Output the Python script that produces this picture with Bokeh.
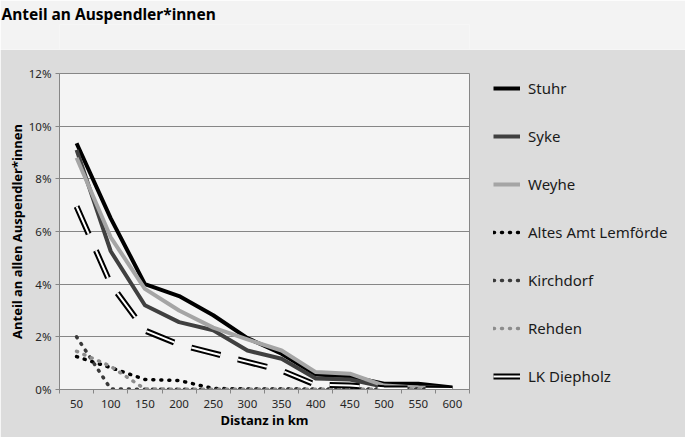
from bokeh.plotting import figure
from bokeh.models import (Range1d, FixedTicker, PrintfTickFormatter, Legend,
                          LegendItem)
from bokeh.layouts import column
from bokeh.embed import file_html
from bokeh.resources import INLINE

# ---- data (percent of all out-commuters) ----
title_text = "Anteil an Auspendler*innen"
x_label = "Distanz in km"
y_label = "Anteil an allen Auspendler*innen"
distance = [50, 100, 150, 200, 250, 300, 350, 400, 450, 500, 550, 600]
y_ticks = [0, 2, 4, 6, 8, 10, 12]

stuhr = [9.35, 6.5, 4.0, 3.55, 2.82, 1.95, 1.36, 0.57, 0.5, 0.22, 0.22, 0.08]
syke = [9.1, 5.25, 3.2, 2.56, 2.25, 1.48, 1.17, 0.42, 0.38, 0.1, 0.08, 0.05]
weyhe = [8.8, 5.78, 3.82, 3.0, 2.35, 1.9, 1.48, 0.66, 0.6, 0.15, 0.08, 0.05]
lemfoerde = [1.25, 0.83, 0.38, 0.34, 0.04, 0.02, 0.02, 0.01, 0.01, 0.01, 0.01, 0.01]
kirchdorf = [2.0, 0.02, 0.01, 0.01, 0.01, 0.01, 0.01, 0.01, 0.01, 0.01, 0.01, 0.01]
rehden = [1.45, 0.88, 0.02, 0.01, 0.01, 0.01, 0.01, 0.01, 0.01, 0.01, 0.01, 0.01]
lk_diepholz = [6.95, 4.0, 2.24, 1.71, 1.38, 1.05, 0.72, 0.18, 0.15, 0.05, 0.03, 0.02]

FONT = "Noto Sans"
GRID = "#868686"
step = distance[1] - distance[0]
boundaries = [d - step / 2 for d in distance] + [distance[-1] + step / 2]

LEFT, FRAME_W, RIGHT = 59, 410, 216

# ---- title band ----
band = figure(width=685, height=49, frame_width=FRAME_W,
              x_range=Range1d(0, 1), y_range=Range1d(0, 1),
              toolbar_location=None, output_backend="svg",
              x_axis_type=None, y_axis_type=None,
              min_border_left=LEFT, min_border_right=RIGHT,
              min_border_top=0, min_border_bottom=0,
              background_fill_color="#f3f3f3", border_fill_color="#f3f3f3",
              outline_line_color=None)
band.grid.visible = False
band.title.text = title_text
band.title.align = "left"
band.title.offset = -(LEFT - 1)
band.title.standoff = 0
band.title.text_font = FONT
band.title.text_font_style = "bold"
band.title.text_font_size = "15.5px"
band.title.text_color = "#000000"

# ---- main chart ----
p = figure(width=685, height=388, frame_width=FRAME_W, frame_height=316,
           x_range=Range1d(boundaries[0], boundaries[-1]), y_range=Range1d(0, 12),
           toolbar_location=None, output_backend="svg",
           min_border_left=LEFT, min_border_right=RIGHT, min_border_top=24,
           min_border_bottom=48,
           background_fill_color="#f4f4f4", border_fill_color="#dcdcdc",
           outline_line_color=GRID, outline_line_width=1)

p.xgrid.visible = False
p.ygrid.ticker = FixedTicker(ticks=y_ticks)
p.ygrid.grid_line_color = GRID
p.ygrid.grid_line_width = 1

# x axis
p.xaxis.ticker = FixedTicker(ticks=distance, minor_ticks=boundaries)
p.xaxis.axis_line_color = GRID
p.xaxis.major_tick_line_color = None
p.xaxis.major_tick_out = 4
p.xaxis.major_tick_in = 0
p.xaxis.minor_tick_line_color = GRID
p.xaxis.minor_tick_out = 4
p.xaxis.minor_tick_in = 0
p.xaxis.major_label_standoff = 6
p.xaxis.axis_label = x_label
p.xaxis.axis_label_standoff = 0

# y axis
p.yaxis.ticker = FixedTicker(ticks=y_ticks, minor_ticks=[])
p.yaxis.formatter = PrintfTickFormatter(format="%d%%")
p.yaxis.axis_line_color = GRID
p.yaxis.major_tick_line_color = GRID
p.yaxis.major_tick_out = 4
p.yaxis.major_tick_in = 0
p.yaxis.minor_tick_line_color = None
p.yaxis.major_label_standoff = 4
p.yaxis.axis_label = y_label
p.yaxis.axis_label_standoff = 0

for ax in (p.xaxis, p.yaxis):
    ax.major_label_text_font = FONT
    ax.major_label_text_font_size = "11.5px"
    ax.major_label_text_color = "#262626"
    ax.axis_label_text_font = FONT
    ax.axis_label_text_font_style = "bold"
    ax.axis_label_text_font_size = "13px"
    ax.axis_label_text_color = "#000000"

# series
r_stuhr = p.line(distance, stuhr, line_color="#000000", line_width=4, line_join="round")
r_syke = p.line(distance, syke, line_color="#404040", line_width=4, line_join="round")
r_weyhe = p.line(distance, weyhe, line_color="#a5a5a5", line_width=4, line_join="round")
r_lem = p.line(distance, lemfoerde, line_color="#000000", line_width=3.5,
               line_dash="1 7", line_cap="round", line_join="round")
r_kir = p.line(distance, kirchdorf, line_color="#3a3a3a", line_width=3.5,
               line_dash="1 7", line_cap="round", line_join="round")
r_reh = p.line(distance, rehden, line_color="#8c8c8c", line_width=3.5,
               line_dash="1 7", line_cap="round", line_join="round")
r_lk1 = p.line(distance, lk_diepholz, line_color="#000000", line_width=6,
               line_dash="30 18")
r_lk2 = p.line(distance, lk_diepholz, line_color="#ffffff", line_width=2,
               line_dash="30 18")

legend = Legend(items=[
    LegendItem(label="Stuhr", renderers=[r_stuhr]),
    LegendItem(label="Syke", renderers=[r_syke]),
    LegendItem(label="Weyhe", renderers=[r_weyhe]),
    LegendItem(label="Altes Amt Lemförde", renderers=[r_lem]),
    LegendItem(label="Kirchdorf", renderers=[r_kir]),
    LegendItem(label="Rehden", renderers=[r_reh]),
    LegendItem(label="LK Diepholz", renderers=[r_lk1, r_lk2]),
], location=(24, 3), padding=0, margin=0, border_line_color=None,
    background_fill_alpha=0, glyph_width=27, glyph_height=20, label_height=20,
    label_standoff=8, spacing=28, label_text_font=FONT, label_text_font_size="15px",
    label_text_color="#1a1a1a")
p.add_layout(legend, "right")

layout = column(band, p, spacing=0)
open("out.html", "w").write(file_html(layout, INLINE))
